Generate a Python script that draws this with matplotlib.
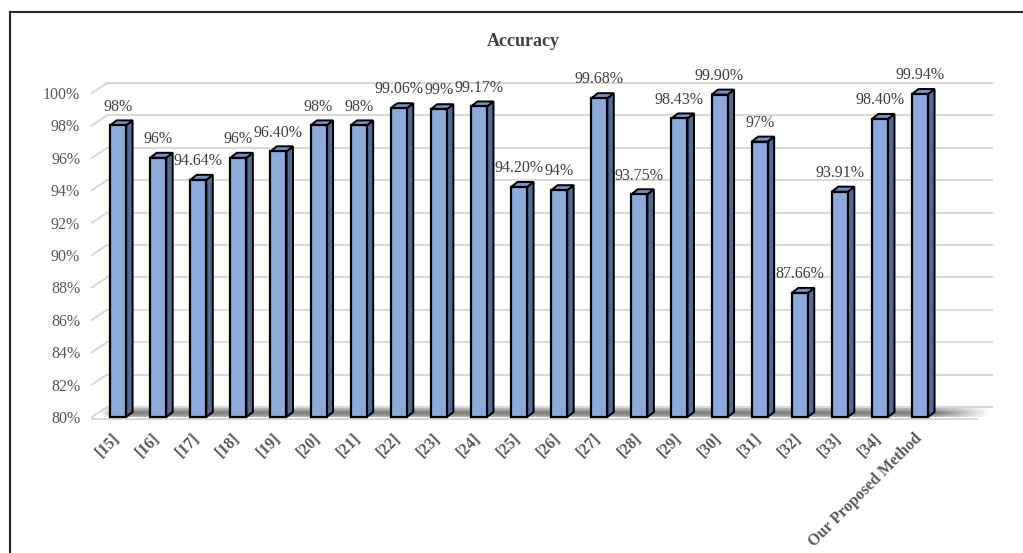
import numpy as np
import matplotlib as mpl
mpl.use('Agg')
import matplotlib.pyplot as plt
from matplotlib.patches import Polygon
from matplotlib.transforms import offset_copy
from matplotlib.lines import Line2D

plt.rcParams['font.family'] = 'Liberation Serif'

# data
methods = ['[15]', '[16]', '[17]', '[18]', '[19]', '[20]', '[21]', '[22]', '[23]', '[24]',
           '[25]', '[26]', '[27]', '[28]', '[29]', '[30]', '[31]', '[32]', '[33]', '[34]',
           'Our Proposed Method']
accuracy = [98, 96, 94.64, 96, 96.40, 98, 98, 99.06, 99, 99.17,
            94.20, 94, 99.68, 93.75, 98.43, 99.90, 97, 87.66, 93.91, 98.40,
            99.94]
labels = ['98%', '96%', '94.64%', '96%', '96.40%', '98%', '98%', '99.06%', '99%', '99.17%',
          '94.20%', '94%', '99.68%', '93.75%', '98.43%', '99.90%', '97%', '87.66%', '93.91%', '98.40%',
          '99.94%']
yticks = np.arange(80, 101, 2)

# colours
front_c = '#8EA9DB'
side_c = '#56698F'
top_c = '#7391C9'
grid_c = '#D9D9D9'
txt_c = '#595959'

fig = plt.figure(figsize=(10.23, 5.53), dpi=100)
W, H = 1023, 553
ax = fig.add_axes([92 / W, 1 - 417 / H, (977 - 92) / W, (417 - 93) / H])
x = np.arange(len(methods))
x0, x1 = -0.65, 21.42
ax.set_xlim(x0, x1)
ax.set_ylim(80, 100)

# pixel -> data conversion (fixed layout)
px_x = ax.bbox.width / (x1 - x0)
px_y = ax.bbox.height / 20.0

# back wall gridlines (offset in depth)
gdx, gdy = 15, 10
back = offset_copy(ax.transData, fig, x=gdx, y=gdy, units='dots')
for g in yticks:
    ax.plot([x0, x1], [g, g], color=grid_c, lw=1.5, transform=back, clip_on=False, zorder=0)
    ax.plot([x0, x0 + gdx / px_x], [g, g + gdy / px_y], color=grid_c, lw=1.5,
            clip_on=False, zorder=0)
# front edge of the floor
ax.plot([x0, x1], [79.9, 79.9], color=grid_c, lw=1.5, clip_on=False, zorder=0)

# floor shadow: soft gradient band on the floor
sx0, sx1 = -0.45, 21.75
sy0, sy1 = 80.0, 80 + (gdy - 1) / px_y
nx, ny = 400, 20
hx = np.linspace(0, 1, nx)
fade = np.clip(hx / 0.02, 0, 1) * np.clip((1 - hx) / 0.06, 0, 1)
vy = np.linspace(0, 1, ny)
vprof = 0.55 + 0.45 * np.sin(np.pi * np.clip(vy * 1.1, 0, 1))
alpha = np.outer(vprof, fade) * 0.85
img = np.zeros((ny, nx, 4))
img[..., :3] = 0.42
img[..., 3] = alpha
im = ax.imshow(img, extent=[sx0, sx1, sy0, sy1], origin='lower', aspect='auto',
               interpolation='bilinear', zorder=1, clip_on=False)
clip = Polygon([[sx0, sy0], [sx1, sy0], [sx1 + gdx / px_x, sy1], [sx0 + gdx / px_x, sy1]],
               closed=True, transform=ax.transData, facecolor='none', edgecolor='none')
im.set_clip_path(clip)
ax.set_xlim(x0, x1)
ax.set_ylim(80, 100)

# 3D-like bars
w = 0.4
ddx = 6.5 / px_x
ddy = 5.0 / px_y
ax.bar(x, np.array(accuracy) - 80, bottom=80, width=w, color=front_c,
       edgecolor='black', linewidth=1.6, zorder=4, clip_on=False)
for xi, v in zip(x, accuracy):
    l, r = xi - w / 2, xi + w / 2
    side = Polygon([[r, 80], [r, v], [r + ddx, v + ddy], [r + ddx, 80 + ddy]],
                   closed=True, facecolor=side_c, edgecolor='black', lw=1.4, zorder=3,
                   clip_on=False)
    top = Polygon([[l, v], [r, v], [r + ddx, v + ddy], [l + ddx, v + ddy]],
                  closed=True, facecolor=top_c, edgecolor='black', lw=1.4, zorder=3,
                  clip_on=False)
    ax.add_patch(side)
    ax.add_patch(top)

# data labels
for xi, v, s in zip(x, accuracy, labels):
    ax.annotate(s, (xi, v), xytext=(0, 13.5), textcoords='offset points',
                ha='center', va='center', fontsize=11.5, color='#404040', zorder=5)

# axis labels
ax.set_yticks(yticks)
ax.set_yticklabels([f'{t}%' for t in yticks], fontsize=11.5, color=txt_c)
ax.tick_params(axis='y', length=0, pad=8.5)
ax.set_xticks([])
lab_tr = offset_copy(ax.transData, fig, x=-6, y=-13, units='dots')
for xi, m in zip(x, methods):
    ax.text(xi, 80, m, transform=lab_tr, rotation=45, rotation_mode='anchor',
            ha='right', va='top', fontsize=11.5, fontweight='bold', color=txt_c)

for sp in ax.spines.values():
    sp.set_visible(False)
ax.patch.set_alpha(0)

fig.text(523 / W, 1 - 41 / H, 'Accuracy', ha='center', va='center',
         fontsize=13, fontweight='bold', color='#404040')

# outer frame (top and left edges visible in the reference)
fig.add_artist(Line2D([10 / W, 1], [1 - 12 / H, 1 - 12 / H], color='#262626', lw=1.5))
fig.add_artist(Line2D([10 / W, 10 / W], [0, 1 - 12 / H], color='#262626', lw=1.5))

fig.savefig('out.png', dpi=100)
